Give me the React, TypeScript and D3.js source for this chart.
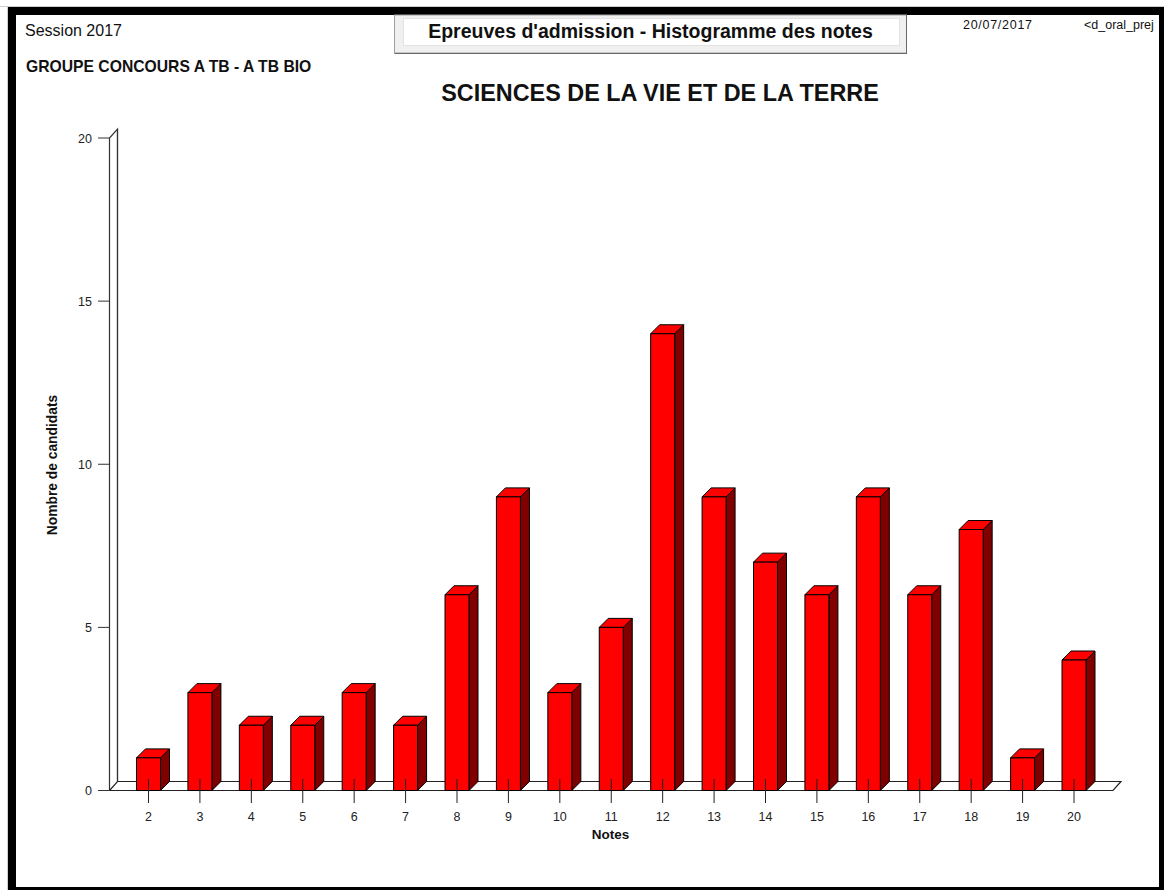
import React from "react";
import * as d3 from "d3";

const notes = ["2","3","4","5","6","7","8","9","10","11","12","13","14","15","16","17","18","19","20"];
const candidats = [1,3,2,2,3,2,6,9,3,5,14,9,7,6,9,6,8,1,4];
const yTicks = [0,5,10,15,20];

const W = 1164, H = 890;
const DX = 9, DY = 9;

export default function App() {
  const x = d3.scalePoint<string>().domain(notes).range([148.5, 1074]);
  const y = d3.scaleLinear().domain([0, 20]).range([790.5, 138]);
  const y0 = y(0);
  const axisX = 109.5;
  const floorRight = 1113;
  const wdx = 8, wdy = 9;
  const barW = 24;

  return (
    <div style={{ position: "absolute", left: 0, top: 0 }}>
      <svg width={W} height={H} style={{ display: "block", fontFamily: "Arial, 'Liberation Sans', sans-serif" }}>
        <rect x={0} y={0} width={W} height={H} fill="#fff" />
        <line x1={0} x2={W} y1={6.5} y2={6.5} stroke="#cfcfcf" />
        <line x1={7.5} x2={7.5} y1={6} y2={H} stroke="#cfcfcf" />
        {/* header texts */}
        <text x={25} y={36} fontSize={16} fill="#111">Session 2017</text>
        <text x={26} y={72} fontSize={15.7} fontWeight="bold" fill="#111">GROUPE CONCOURS A TB - A TB BIO</text>
        <text x={963} y={29} fontSize={12.5} fill="#111" textLength={69}>20/07/2017</text>
        <text x={1084} y={29} fontSize={12.5} fill="#111">&lt;d_oral_prej</text>

        {/* black frame */}
        <path d={`M8,7H${W}V${H}H8Z M16,15V887H1159V15Z`} fill="#000" fillRule="evenodd" />

        {/* title box */}
        <rect x={394.5} y={15} width={512} height={38} fill="#f0f0f0" stroke="#a0a0a0" />
        <line x1={906.5} x2={906.5} y1={15} y2={53.5} stroke="#696969" />
        <line x1={394.5} x2={907} y1={53.5} y2={53.5} stroke="#696969" />
        <rect x={403.5} y={18.5} width={496} height={27} fill="#fff" stroke="#e3e3e3" />
        <text x={650.5} y={37.5} fontSize={19.5} fontWeight="bold" textAnchor="middle" fill="#111">Epreuves d'admission - Histogramme des notes</text>

        {/* main title */}
        <text x={660} y={101} fontSize={23.4} fontWeight="bold" textAnchor="middle" fill="#111">SCIENCES DE LA VIE ET DE LA TERRE</text>

        {/* 3D wall (y axis) */}
        <path
          d={`M${axisX},${y0} V${y(20)} L${axisX + wdx},${y(20) - wdy} V${y0 - wdy}`}
          fill="none" stroke="#333" strokeWidth={1.2}
        />
        {/* floor */}
        <path
          d={`M${axisX},${y0} H${floorRight} L${floorRight + wdx},${y0 - wdy} H${axisX + wdx} Z`}
          fill="#fff" stroke="#222" strokeWidth={1.2}
        />
        <line x1={axisX + wdx} x2={axisX + wdx} y1={y0 - wdy} y2={y(20) - wdy} stroke="#333" strokeWidth={1.2} />

        {/* y ticks */}
        {yTicks.map((t) => (
          <g key={t}>
            <line x1={98} x2={axisX} y1={y(t)} y2={y(t)} stroke="#333" />
            <text x={92} y={y(t) + 4.5} fontSize={12.5} textAnchor="end" fill="#222">{t}</text>
          </g>
        ))}

        {/* bars */}
        {notes.map((n, i) => {
          const cx = x(n)!;
          const l = cx - barW / 2, r = cx + barW / 2;
          const top = y(candidats[i]);
          return (
            <g key={n} stroke="#000" strokeWidth={1} strokeLinejoin="round">
              <path d={`M${r},${y0} L${r + DX},${y0 - DY} V${top - DY} L${r},${top} Z`} fill="#800000" />
              <path d={`M${l},${top} L${l + DX},${top - DY} H${r + DX} L${r},${top} Z`} fill="#ff0000" />
              <rect x={l} y={top} width={barW} height={y0 - top} fill="#ff0000" />
            </g>
          );
        })}

        {/* x ticks */}
        {notes.map((n) => (
          <g key={n}>
            <line x1={x(n)!} x2={x(n)!} y1={779} y2={803} stroke="#222" />
            <text x={x(n)!} y={821} fontSize={12.5} textAnchor="middle" fill="#222">{n}</text>
          </g>
        ))}

        {/* axis titles */}
        <text x={610.5} y={839} fontSize={13.5} fontWeight="bold" textAnchor="middle" fill="#111">Notes</text>
        <text transform={`translate(57,465) rotate(-90)`} fontSize={13.8} fontWeight="bold" textAnchor="middle" fill="#111">Nombre de candidats</text>
      </svg>
    </div>
  );
}
